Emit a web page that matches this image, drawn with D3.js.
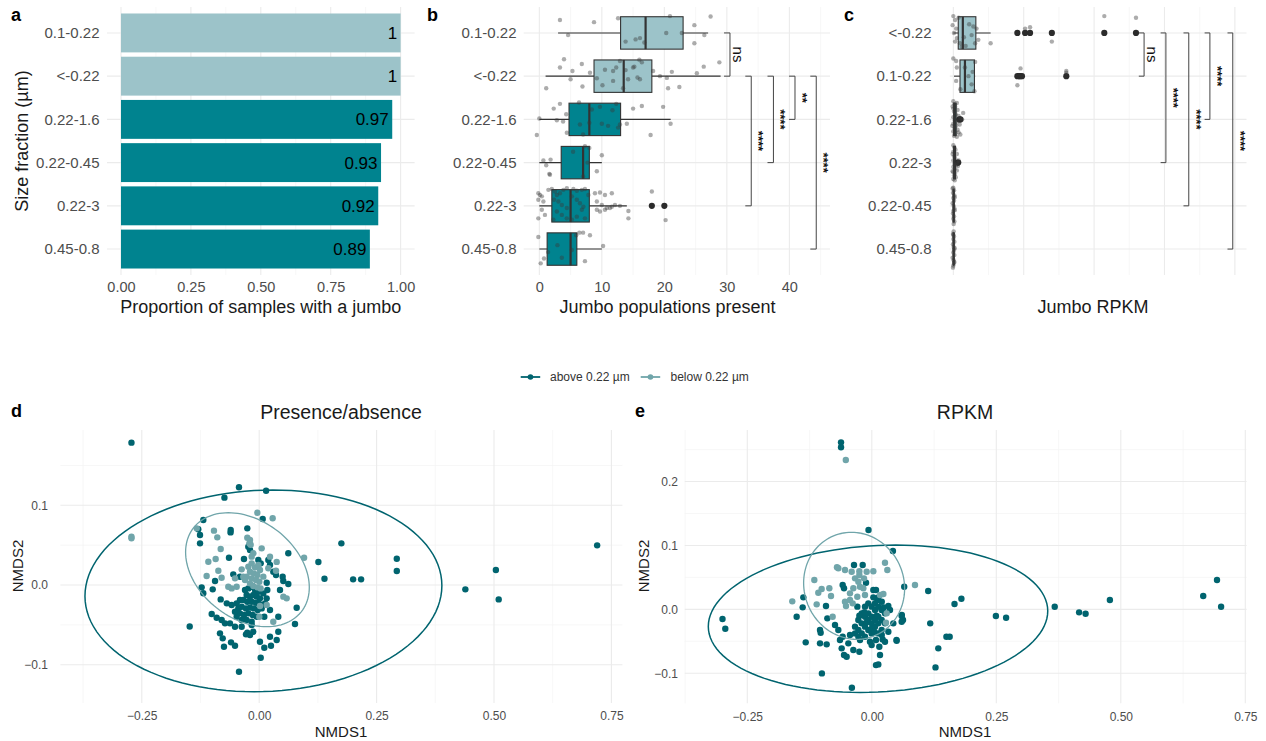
<!DOCTYPE html>
<html><head><meta charset="utf-8">
<script src="https://cdn.jsdelivr.net/npm/d3@7"></script>
<style>body{margin:0;background:#fff;} text{font-family:"Liberation Sans",Arial,Helvetica,sans-serif;-webkit-font-smoothing:antialiased;}</style>
</head><body><svg id="chart" width="1266" height="741"></svg>
<script>
// ---------------- DATA ----------------
const aCats = ["0.1-0.22","<-0.22","0.22-1.6","0.22-0.45","0.22-3","0.45-0.8"];
const aVals = [1,1,0.97,0.93,0.92,0.89];
const aGroup = ["below","below","above","above","above","above"];
const aTicks = [0,0.25,0.5,0.75,1];

const bCats = aCats;
const bGroup = aGroup;
const bLow = [3,1,0,0,0,0];
const bQ1  = [13,8.75,4.75,3.5,2,1.25];
const bMed = [17,13.5,8,7,5,5];
const bQ3  = [23,18,13,8,8,6];
const bHigh= [27,29,21,10,14,10];
const bOut = [[],[],[],[],[18,20],[]];
const bTicks = [0,10,20,30,40];
const bJitter = [
 [[3.3,-0.30],[8.75,-0.25],[4.6,0.05],[12.6,-0.34],[20.9,-0.39],[27.4,-0.38],[24.8,-0.18],[26.4,0.05],[24.8,0.24],[20.3,0],[22.8,0],[13.8,0.2],[15.4,0.15],[16.1,0.12],[16.8,0.22]],
 [[3.95,-0.39],[3.3,-0.2],[5.3,-0.12],[6.8,-0.28],[8.1,-0.08],[5.0,0.07],[6.9,0.24],[1.1,0.28],[9.2,0.05],[10.1,0.21],[10.5,-0.15],[11.8,-0.12],[12.3,-0.2],[11.8,0.11],[13.8,-0.14],[13.4,0.28],[14.2,0.07],[16.0,-0.38],[16.4,-0.32],[15.0,-0.2],[15.7,0.03],[16.1,0.07],[18.2,-0.12],[19.3,0],[20.4,0.04],[21.2,-0.1],[20.6,0.28],[22.4,0.25],[25.2,-0.07],[26.3,-0.22],[28.8,-0.32],[15.2,-0.22],[12.9,-0.35]],
 [[2.3,-0.25],[3.3,-0.36],[2.8,0.02],[3.8,0.05],[4.3,-0.12],[4.4,0.31],[-0.4,0.36],[6.35,-0.39],[6.5,0.12],[7.0,0.35],[8.0,0.08],[8.4,-0.23],[9.7,-0.29],[10.0,0.1],[11.0,0.15],[11.7,-0.21],[12.3,-0.36],[12.6,0.19],[12.9,0.12],[14.0,0.1],[15.0,-0.25],[16.4,-0.31],[17.8,0.36],[19.8,-0.29],[21.0,0.1],[0,-0.02]],
 [[5.4,-0.25],[7.3,-0.38],[8.0,-0.34],[10.0,-0.17],[9.2,0.2],[1.7,0.28],[0.65,-0.05],[1.8,-0.07],[7.0,0.32],[7.7,0],[1.1,0.06],[1.6,0.26]],
 [[-0.16,-0.29],[0.1,-0.25],[0.4,-0.22],[-0.16,-0.14],[0.65,-0.1],[0.4,0.09],[-0.16,0.29],[0.9,0.21],[1.45,-0.37],[2.0,-0.39],[2.5,-0.33],[2.8,-0.25],[3.3,-0.29],[3.85,-0.37],[4.4,-0.41],[5.45,-0.39],[6.0,-0.35],[6.8,-0.37],[7.3,-0.39],[2.35,-0.14],[3.05,-0.1],[3.6,-0.02],[4.4,0.05],[5.2,-0.22],[6.0,-0.14],[6.5,-0.06],[7.05,0.02],[7.85,-0.25],[2.8,0.13],[3.6,0.21],[4.4,0.29],[5.2,0.32],[6.0,0.25],[6.8,0.09],[7.3,0.29],[2.25,0.32],[8.9,-0.29],[9.7,-0.31],[10.5,-0.25],[11.6,-0.29],[9.2,-0.1],[10.0,-0.02],[10.8,0.05],[11.6,0.02],[12.1,-0.02],[12.9,0],[9.2,0.09],[9.7,0.13],[10.5,0.09],[11.3,0.05],[14.25,0.12],[14.25,0.29],[18.0,-0.33],[20.2,0.33]],
 [[-0.16,-0.28],[0.22,0.33],[0.75,0.22],[1.4,0.07],[2.9,-0.09],[5.9,-0.32],[6.4,-0.38],[7.0,-0.38],[8.1,-0.32],[10.2,-0.07],[7.3,0.28],[5.2,0.02],[3.6,0.2]]
];
const bSigFrom = ["0.1-0.22","<-0.22","<-0.22","<-0.22","<-0.22"];
const bSigTo   = ["<-0.22","0.22-3","0.22-0.45","0.22-1.6","0.45-0.8"];
const bSigX    = [30.5,33.9,37.45,40.9,44.3];
const bSigLab  = ["ns","****","****","**","****"];

const cCats = ["<-0.22","0.1-0.22","0.22-1.6","0.22-3","0.22-0.45","0.45-0.8"];
const cGroup = ["below","below","above","above","above","above"];
const cLow = [0,0.02,0,0,0,0];
const cQ1  = [0.14,0.19,0.01,0.01,0,0];
const cMed = [0.27,0.33,0.04,0.03,0.01,0.01];
const cQ3  = [0.64,0.6,0.08,0.06,0.02,0.02];
const cHigh= [1.06,0.62,0.12,0.09,0.04,0.04];
const cOut = [[1.82,2.04,2.18,2.8,4.29,5.19],[1.82,1.86,1.9,1.95,3.21],[0.17,0.2],[0.12,0.14],[],[]];
const cGridVals = [0,1,2,3,4,5,6,7,8];
const cJitter = [
 [[1.06,0.24],[2.04,-0.1],[2.18,-0.13],[2.8,0.2],[4.29,-0.39],[5.19,-0.35],[0,-0.39],[0.05,-0.3],[-0.02,-0.18],[0.08,-0.1],[0.57,-0.15],[0.66,-0.1],[0.52,0.05],[0.71,0.16],[0.62,0.24],[0.1,0.12],[0.19,0.24],[0.24,0.32],[0.02,0],[0.15,-0.35],[0.35,0.3],[0.45,-0.2],[0.05,0.2],[0.3,0.1]],
 [[1.91,-0.18],[1.82,0.21],[3.21,-0.12],[3.21,-0.08],[0,-0.41],[0.08,-0.35],[0.62,-0.33],[0.08,0.11],[0.52,0.19],[0.33,-0.2],[0.43,0],[0.2,0.3],[0.55,-0.1],[0.1,-0.2],[0.6,0.35]],
 [[0.0,-0.42],[0.03,-0.35],[0.1,-0.38],[0.05,-0.3],[0.0,-0.25],[0.12,-0.22],[0.02,-0.18],[0.07,-0.12],[0.15,-0.08],[0.0,-0.05],[0.2,-0.02],[0.04,0.02],[0.1,0.05],[0.25,0.0],[0.0,0.1],[0.08,0.14],[0.18,0.12],[0.03,0.2],[0.12,0.24],[0.0,0.28],[0.06,0.32],[0.2,0.35],[0.02,0.38],[0.1,0.4],[0.28,-0.15],[0.15,0.3],[-0.03,0.15],[-0.02,-0.3]],
 [[0.0,-0.4],[0.03,-0.35],[0.06,-0.3],[0.0,-0.25],[0.1,-0.2],[0.02,-0.15],[0.05,-0.1],[0.0,-0.05],[0.12,0.0],[0.03,0.03],[0.08,0.06],[0.0,0.1],[0.04,0.15],[0.1,0.18],[0.0,0.22],[0.05,0.26],[0.02,0.3],[0.07,0.34],[0.0,0.38],[0.04,0.41],[-0.02,-0.2],[-0.02,0.2],[0.15,-0.05],[0.13,0.08]],
 [[0.0,-0.42],[0.02,-0.36],[-0.01,-0.3],[0.03,-0.24],[0.0,-0.18],[0.02,-0.12],[-0.02,-0.06],[0.01,0],[0.03,0.06],[0.0,0.12],[-0.01,0.18],[0.02,0.24],[0.0,0.3],[0.03,0.36],[0.01,0.42],[-0.02,-0.4],[0.04,0.1],[0.04,-0.2]],
 [[0.01,-0.41],[-0.01,-0.35],[0.02,-0.29],[0.0,-0.23],[0.03,-0.17],[-0.01,-0.11],[0.01,-0.05],[0.02,0.02],[0.0,0.08],[0.03,0.14],[-0.02,0.2],[0.01,0.26],[0.02,0.32],[0.0,0.38],[-0.01,0.43],[0.04,-0.02],[0.03,0.3],[0.0,-0.33]]
];
const cSigFrom = ["<-0.22","<-0.22","<-0.22","<-0.22","<-0.22"];
const cSigTo   = ["0.1-0.22","0.22-3","0.22-0.45","0.22-1.6","0.45-0.8"];
const cSigX    = [5.42,6.04,6.69,7.29,7.94];
const cSigLab  = ["ns","****","****","****","****"];

const nmdsXTicks = [-0.25,0,0.25,0.5,0.75];
const nmdsXMinor = [-0.375,-0.125,0.125,0.375,0.625];
const dYTicks = [-0.1,0,0.1];
const dYMinor = [-0.05,0.05,0.15];
const eYTicks = [-0.1,0,0.1,0.2];
const eYMinor = [-0.05,0.05,0.15,0.25];

const dAbove = [[-0.272,0.1786],[-0.148,-0.052],[-0.043,0.1226],[0.0147,0.1183],[-0.074,0.1096],[-0.043,-0.1088],[0.175,0.0523],[0.126,0.0289],[0.139,0.0079],[0.2,0.0071],[0.217,0.0071],[0.293,0.033],[0.293,0.0176],[0.439,-0.0054],[0.504,0.0188],[0.510,-0.018],[0.7196,0.0498],
 [-0.119,0.0816],[-0.1297,0.0699],[-0.126,0.0523],[-0.126,0.0627],[-0.0607,0.069],[-0.061,0.066],[-0.0253,0.0711],[0.0075,0.0828],[-0.0232,0.048],[-0.0196,0.0439],[-0.0643,0.0343],[-0.0324,0.0326],[-0.0019,0.0314],[0.0032,0.0272],[-0.0552,0.0134],[-0.0409,0.0104],[0.0194,0.0314],[0.023,0.0251],[0.03,0.0167],[0.0358,0.0125],[0.05,0.0104],[0.0513,0.005],[0.0443,-0.0063],[0.062,0.0013],[0.062,0.0398],[-0.094,0.005],[-0.099,-0.0054],[-0.1225,-0.0029],[-0.119,-0.0104],[0.016,0.0029],[0.0173,-0.0063],[-0.082,-0.018],[-0.069,-0.023],[-0.0586,-0.0251],[-0.0409,-0.0188],[-0.0445,-0.0293],[0.023,-0.0314],[0.0407,-0.0397],[0.0798,-0.0285],[0.0762,-0.0489],[0.0109,-0.0397],[-0.1011,-0.0364],[-0.0905,-0.041],[-0.0799,-0.0439],[-0.0728,-0.0481],[-0.0622,-0.0481],[-0.0515,-0.0523],[-0.0373,-0.0523],[-0.016,-0.0502],[-0.0126,-0.0586],[-0.0253,-0.0598],[-0.0281,-0.0619],[-0.0196,-0.0627],[0.0017,-0.0711],[0.023,-0.0648],[0.0407,-0.0586],[0.0373,-0.069],[0.0251,-0.0761],[0.0109,-0.0787],[-0.0835,-0.0606],[-0.0777,-0.0669],[-0.075,-0.0774],[-0.06,-0.0719],[-0.0515,-0.0761],[0.0032,-0.0912],
 [-0.0302,-0.0063],[-0.0231,-0.0042],[-0.016,-0.0021],[-0.0089,-0.0063],[-0.0018,-0.0084],[-0.0267,-0.0125],[-0.0196,-0.0146],[-0.0125,-0.0125],[-0.0054,-0.0146],[0.0017,-0.0167],[-0.0338,-0.0188],[-0.0253,-0.0209],[-0.016,-0.0209],[-0.0068,-0.0222],[0.0003,-0.0238],[-0.0373,-0.0272],[-0.0281,-0.0293],[-0.0196,-0.0284],[-0.0111,-0.0293],[-0.0033,-0.0314],[0.0053,-0.0293],[-0.0409,-0.0355],[-0.0324,-0.0376],[-0.0231,-0.0355],[-0.0139,-0.0376],[-0.0054,-0.0397],[-0.0267,-0.0439],[-0.016,-0.046],[-0.0373,-0.0439],[-0.048,-0.0397],[0.0124,-0.023],[0.0159,-0.0167],[0.0088,-0.0105],[-0.048,-0.023],[-0.0515,-0.0335]];
const dBelow = [[-0.272,0.0606],[-0.272,0.0586],[0.0956,0.0343],[-0.004,0.0907],[0.0287,0.0837],[-0.133,0.0711],[-0.0963,0.0682],[-0.0892,0.0598],[-0.082,0.0452],[-0.0253,0.0594],[-0.0196,0.0565],[0.0053,0.046],[-0.0125,0.0398],[-0.016,0.0356],[-0.1083,0.0293],[-0.0927,0.0326],[-0.087,0.018],[-0.1119,0.0113],[-0.08,0.0092],[-0.0515,0.0084],[-0.0373,0.0197],[-0.0338,0.0104],[-0.048,-0.0021],[-0.0658,-0.0021],[0.0194,0.021],[0.0358,0.018],[0.016,-0.0251],[0.0017,-0.0263],[0.0003,-0.0397],[0.03,-0.046],[0.0585,-0.0167],[0.0514,-0.0146],[-0.0586,-0.0042],
 [-0.0231,0.023],[-0.016,0.0272],[-0.0089,0.0222],[-0.0018,0.0251],[-0.0196,0.0167],[-0.0111,0.0146],[-0.004,0.0125],[-0.0267,0.0105],[-0.016,0.0084],[-0.0068,0.0063],[0.0003,0.0042],[-0.0196,0.0021],[-0.0125,-0.0013],[-0.004,-0.0029],[0.0031,-0.0042],[-0.0302,0.0063],[0.0017,0.0188],[0.0088,0.0105],[-0.0182,0.0506],[-0.021,0.0523],[0.023,0.0356],[0.0373,0.029]];
const dEllipses = [
 {group:"above", cx:0.009, cy:-0.0073, w:0.380, h:0.1265, phi:87},
 {group:"below", cx:-0.025, cy:0.0192, w:0.1317, h:0.0715, phi:108}
];

const eAbove = [[-0.0618,0.2613],[-0.0618,0.2535],[-0.2998,-0.0152],[-0.2942,-0.0303],[-0.1327,-0.0516],[-0.1002,-0.1002],[-0.04,-0.1226],[-0.0066,0.1241],[0.0424,0.0912],[0.1132,0.0286],[0.1173,-0.0219],[0.1335,-0.061],[0.1279,-0.0908],[0.1498,-0.0428],[0.1564,-0.0428],[0.1661,0.0083],[0.1799,0.0166],[0.2492,-0.0105],[0.2697,-0.0131],[0.3673,0.0041],[0.4163,-0.0047],[0.4293,-0.0069],[0.4781,0.0146],[0.6655,0.0208],[0.6932,0.0459],[0.7014,0.0041],[0.0627,-0.0167],[0.0603,-0.0089],[0.0496,-0.048],[0.0651,0.0354],
 [-0.0357,0.0693],[-0.0183,0.0693],[-0.0585,0.038],[-0.0558,0.0329],[-0.0116,0.0417],[0.0031,0.0302],[0.0084,0.0302],[-0.1375,0.0188],[-0.1388,0.0031],[-0.1509,-0.0116],[-0.092,0.0052],[-0.0893,-0.0141],[-0.104,-0.0324],[-0.1027,-0.0366],[-0.104,-0.0532],[-0.0906,-0.0548],[-0.0739,-0.0246],[-0.0672,-0.0324],[-0.0639,-0.048],[-0.0605,-0.061],[-0.0558,-0.0715],[-0.0505,-0.0742],[-0.0471,-0.0532],[-0.0371,-0.0637],[-0.025,-0.0663],[-0.0237,-0.048],[-0.0036,-0.0507],[-0.0003,-0.0559],[0.0084,-0.048],[0.0151,-0.0585],[0.0165,-0.0715],[0.0084,-0.0872],[0.0131,-0.0861],[0.0218,-0.047],[0.0265,-0.0507],[0.0499,-0.0491],[0.0332,-0.035],[0.0432,-0.0219],[0.06,-0.0105],[0.06,-0.0194],[0.0332,0.0052],[0.0365,-0.0011],[-0.0203,-0.0376],[-0.0438,-0.0402],[-0.0585,-0.0428],[0.0198,0.0],[0.0111,0.0146],[-0.029,0.0042],
 [-0.0337,-0.0271],[-0.027,-0.0167],[-0.027,-0.0324],[-0.0203,-0.0063],[-0.0203,-0.0219],[-0.0137,0.0042],[-0.0137,-0.0115],[-0.0137,-0.0271],[-0.0137,-0.0428],[-0.007,0.0094],[-0.007,-0.0063],[-0.007,-0.0167],[-0.007,-0.0324],[-0.0003,0.0042],[-0.0003,-0.0115],[-0.0003,-0.0219],[-0.0003,-0.0376],[0.0064,0.0094],[0.0064,-0.0011],[0.0064,-0.0167],[0.0064,-0.0271],[0.0131,0.0042],[0.0131,-0.0115],[0.0131,-0.0219],[0.0131,-0.0376],[0.0198,-0.0011],[0.0198,-0.0167],[0.0198,-0.0324],[0.0265,-0.0063],[0.0265,-0.0219],[-0.0337,-0.0376],[-0.027,-0.0428],[0.0,-0.03],[0.01,-0.01],[-0.01,-0.02],[0.005,-0.035],[-0.015,-0.005],[0.02,-0.04],[-0.025,-0.01],[0.0031,0.0188],[0.0131,0.0188],[0.02,0.012],[0.024,0.003]];
const eBelow = [[-0.0522,0.2336],[-0.1597,0.0125],[-0.0672,0.0642],[-0.0699,0.0659],[-0.0538,0.0615],[-0.0404,0.0588],[-0.025,0.0597],[-0.0103,0.0588],[0.0031,0.0597],[0.0265,0.0729],[0.0312,0.0615],[-0.1154,0.0459],[-0.1007,0.0318],[-0.0853,0.0329],[-0.1074,0.026],[-0.0819,0.0208],[-0.1107,0.0078],[-0.0786,-0.0116],[-0.0337,0.0485],[-0.027,0.0432],[-0.0237,0.0354],[-0.017,0.0329],[-0.0371,0.0329],[-0.0438,0.025],[-0.0291,0.0197],[-0.0137,0.0224],[-0.0438,0.0146],[-0.0538,0.0119],[-0.0518,0.0052],[-0.0384,0.0094],[0.0165,0.0224],[0.0232,0.024],[0.0867,0.038],[0.0299,-0.0063],[0.0285,-0.021],[-0.025,0.0537],[-0.0157,0.0485]];
const eEllipses = [
 {group:"above", cx:0.0125, cy:-0.0147, w:0.3408, h:0.1153, phi:84},
 {group:"below", cx:-0.0355, cy:0.0368, w:0.1014, h:0.0837, phi:93}
];
const legendLabels = ["above 0.22 µm","below 0.22 µm"];

// ---------------- STYLE ----------------
const BAR = {above:"#00838f", below:"#9cc3c9"};
const PT  = {above:"#00646f", below:"#70a5aa"};
const GMAJ = "#ebebeb", GMIN = "#f3f3f3";
const TICKC = "#4d4d4d";
const svg = d3.select("#chart");

function hline(g, y, x0, x1, c, w){ g.append("line").attr("x1",x0).attr("x2",x1).attr("y1",y).attr("y2",y).attr("stroke",c).attr("stroke-width",w); }
function vline(g, x, y0, y1, c, w){ g.append("line").attr("x1",x).attr("x2",x).attr("y1",y0).attr("y2",y1).attr("stroke",c).attr("stroke-width",w); }
function styleAxis(g, size){
  g.select(".domain").remove();
  g.selectAll("text").attr("fill",TICKC).style("font-size",size+"px");
}
function label(txt,x,y,size,opts={}){
  const t = svg.append("text").attr("x",x).attr("y",y).style("font-size",size+"px").attr("fill",opts.fill||"#1a1a1a").text(txt);
  if(opts.anchor) t.attr("text-anchor",opts.anchor);
  if(opts.bold) t.style("font-weight","bold");
  if(opts.rot) t.attr("transform",`rotate(${opts.rot},${x},${y})`);
  return t;
}

// ---------------- PANEL A ----------------
(function(){
  const y = d3.scalePoint().domain(aCats).range([7,275]).padding(0.6);
  const x = d3.scaleLinear().domain([-0.05,1.05]).range([107,414.6]);
  const g = svg.append("g");
  d3.range(0,1.01,0.125).forEach((v,i)=> vline(g,x(v),7,275, i%2? GMIN:GMAJ, i%2?0.7:1.1));
  aCats.forEach(c=> hline(g,y(c),107,414.6,GMAJ,1.1));
  const bh = y.step()*0.9;
  g.selectAll("rect.bar").data(aCats).join("rect").attr("class","bar")
    .attr("x",x(0)).attr("y",c=>y(c)-bh/2).attr("height",bh)
    .attr("width",(c,i)=>x(aVals[i])-x(0)).attr("fill",(c,i)=>BAR[aGroup[i]]);
  g.selectAll("text.val").data(aCats).join("text").attr("class","val")
    .attr("x",(c,i)=>x(aVals[i])-3.5).attr("y",c=>y(c)+6).attr("text-anchor","end")
    .style("font-size","17px").attr("fill","#000").text((c,i)=>String(aVals[i]));
  const ax = svg.append("g").attr("transform","translate(0,280)")
    .call(d3.axisBottom(x).tickValues(aTicks).tickFormat(d3.format(".2f")).tickSize(0).tickPadding(2));
  styleAxis(ax,14.5);
  const ay = svg.append("g").attr("transform","translate(99.5,0)").call(d3.axisLeft(y).tickSize(0).tickPadding(0));
  styleAxis(ay,15);
  label("Proportion of samples with a jumbo", x(0.5), 313, 18, {anchor:"middle"});
  label("Size fraction (µm)", 28, 141, 18, {anchor:"middle", rot:-90});
  label("a", 11, 21, 18, {bold:true, fill:"#000"});
})();

// ---------------- BOX helper ----------------
function boxPanel(cats, groups, x, y, lo, q1, med, q3, hi, outs, jit, sigFrom, sigTo, sigX, sigLab, tickLen, gridVals){
  const g = svg.append("g");
  gridVals.forEach((v,i)=> vline(g,x(v),7,275, i%2?GMIN:GMAJ, i%2?0.7:1.1));
  cats.forEach(c=> hline(g,y(c),x.range()[0],x.range()[1],GMAJ,1.1));
  const bh = y.step()*0.75;
  cats.forEach((c,i)=>{
    const cy = y(c);
    g.append("line").attr("x1",x(lo[i])).attr("x2",x(hi[i])).attr("y1",cy).attr("y2",cy).attr("stroke","#333").attr("stroke-width",1.1);
    g.append("rect").attr("x",x(q1[i])).attr("y",cy-bh/2).attr("width",Math.max(0.3,x(q3[i])-x(q1[i]))).attr("height",bh)
      .attr("fill",BAR[groups[i]]).attr("stroke","#333").attr("stroke-width",1.1);
    g.append("line").attr("x1",x(med[i])).attr("x2",x(med[i])).attr("y1",cy-bh/2).attr("y2",cy+bh/2).attr("stroke","#333").attr("stroke-width",2.2);
    g.selectAll(null).data(outs[i]).join("circle").attr("cx",d=>x(d)).attr("cy",cy).attr("r",3.1).attr("fill","#2b2b2b");
  });
  cats.forEach((c,i)=>{
    g.selectAll(null).data(jit[i]).join("circle")
      .attr("cx",d=>x(d[0])).attr("cy",d=>y(c)+d[1]*y.step()).attr("r",2.2)
      .attr("fill","#3a3a3a").attr("fill-opacity",0.42);
  });
  sigFrom.forEach((f,i)=>{
    const y0=y(f), y1=y(sigTo[i]), xx=x(sigX[i]), xt=x(sigX[i]-tickLen);
    g.append("path").attr("d",`M${xt},${y0}H${xx}V${y1}H${xt}`).attr("fill","none").attr("stroke","#444").attr("stroke-width",1);
    const lx = xx+3, ly=(y0+y1)/2;
    g.append("text").attr("x",lx).attr("y",ly).attr("text-anchor","middle")
      .attr("transform",`rotate(90,${lx},${ly})`).attr("fill","#111")
      .style("font-size", sigLab[i]==="ns"?"15px":"13px").style("font-weight", sigLab[i]==="ns"?"normal":"bold").text(sigLab[i]);
  });
  return g;
}

// ---------------- PANEL B ----------------
(function(){
  const y = d3.scalePoint().domain(bCats).range([7,275]).padding(0.6);
  const x = d3.scaleLinear().domain([-2.5,46.5]).range([523.7,830]);
  boxPanel(bCats,bGroup,x,y,bLow,bQ1,bMed,bQ3,bHigh,bOut,bJitter,bSigFrom,bSigTo,bSigX,bSigLab,0.95,d3.range(0,46,5));
  const ax = svg.append("g").attr("transform","translate(0,280)")
    .call(d3.axisBottom(x).tickValues(bTicks).tickSize(0).tickPadding(2));
  styleAxis(ax,14.5);
  const ay = svg.append("g").attr("transform","translate(516.5,0)").call(d3.axisLeft(y).tickSize(0).tickPadding(0));
  styleAxis(ay,15);
  label("Jumbo populations present", x(20.5), 313, 18, {anchor:"middle"});
  label("b", 427, 21, 18, {bold:true, fill:"#000"});
})();

// ---------------- PANEL C ----------------
(function(){
  const y = d3.scalePoint().domain(cCats).range([7,275]).padding(0.6);
  const x = d3.scaleLinear().domain([-0.1,8.33]).range([949.8,1246.5]);
  boxPanel(cCats,cGroup,x,y,cLow,cQ1,cMed,cQ3,cHigh,cOut,cJitter,cSigFrom,cSigTo,cSigX,cSigLab,0.15,cGridVals);
  const ay = svg.append("g").attr("transform","translate(931.5,0)").call(d3.axisLeft(y).tickSize(0).tickPadding(0));
  styleAxis(ay,15);
  label("Jumbo RPKM", 1093, 313, 18, {anchor:"middle"});
  label("c", 844, 21, 18, {bold:true, fill:"#000"});
})();

// ---------------- LEGEND ----------------
(function(){
  const keys = [{g:"above",x:520.7,tx:550},{g:"below",x:640.7,tx:670.5}];
  keys.forEach((k,i)=>{
    svg.append("line").attr("x1",k.x).attr("x2",k.x+19.5).attr("y1",377).attr("y2",377).attr("stroke",PT[k.g]).attr("stroke-width",1.8);
    svg.append("circle").attr("cx",k.x+9.75).attr("cy",377).attr("r",2.8).attr("fill",PT[k.g]);
    label(legendLabels[i], k.tx, 381.3, 12, {fill:"#333"});
  });
})();

// ---------------- NMDS helper ----------------
function nmds(x, y, yTicks, yMinor, above, below, ellipses, yAxisX){
  const g = svg.append("g");
  const [x0,x1]=x.range(), [yb,yt]=y.range();
  nmdsXMinor.forEach(v=> vline(g,x(v),yt,yb,GMIN,0.7));
  yMinor.forEach(v=> hline(g,y(v),x0,x1,GMIN,0.7));
  nmdsXTicks.forEach(v=> vline(g,x(v),yt,yb,GMAJ,1.1));
  yTicks.forEach(v=> hline(g,y(v),x0,x1,GMAJ,1.1));
  g.selectAll(null).data(above).join("circle").attr("cx",d=>x(d[0])).attr("cy",d=>y(d[1])).attr("r",3.2).attr("fill",PT.above);
  g.selectAll(null).data(below).join("circle").attr("cx",d=>x(d[0])).attr("cy",d=>y(d[1])).attr("r",3.2).attr("fill",PT.below);
  const ts = d3.range(0,361,3).map(a=>a*Math.PI/180);
  ellipses.forEach(e=>{
    const ph = e.phi*Math.PI/180;
    const line = d3.line().x(t=>x(e.cx+e.w*Math.cos(t))).y(t=>y(e.cy+e.h*Math.cos(t+ph))).curve(d3.curveLinearClosed);
    g.append("path").attr("d",line(ts)).attr("fill","none").attr("stroke",PT[e.group]).attr("stroke-width",e.group==="above"?1.5:1.3);
  });
  const ax = svg.append("g").attr("transform",`translate(0,${yb+5.7})`)
    .call(d3.axisBottom(x).tickValues(nmdsXTicks).tickFormat(d3.format(".2f")).tickSize(0).tickPadding(3));
  styleAxis(ax,12);
  const ay = svg.append("g").attr("transform",`translate(${yAxisX},0)`)
    .call(d3.axisLeft(y).tickValues(yTicks).tickFormat(d3.format(".1f")).tickSize(0).tickPadding(0));
  styleAxis(ay,12);
}

// ---------------- PANEL D ----------------
(function(){
  const x = d3.scaleLinear().domain([-0.4233,0.7734]).range([60.4,622.4]);
  const y = d3.scaleLinear().domain([-0.148,0.1945]).range([703,430]);
  nmds(x,y,dYTicks,dYMinor,dAbove,dBelow,dEllipses,48);
  label("Presence/absence", 341, 419, 19.5, {anchor:"middle"});
  label("NMDS1", 341, 737, 15, {anchor:"middle"});
  label("NMDS2", 23, 566, 15, {anchor:"middle", rot:-90});
  label("d", 11, 417, 18, {bold:true, fill:"#000"});
})();

// ---------------- PANEL E ----------------
(function(){
  const x = d3.scaleLinear().domain([-0.3755,0.7526]).range([684.8,1246.6]);
  const y = d3.scaleLinear().domain([-0.147,0.2806]).range([703.3,430]);
  nmds(x,y,eYTicks,eYMinor,eAbove,eBelow,eEllipses,678);
  label("RPKM", 965, 419, 19.5, {anchor:"middle"});
  label("NMDS1", 965, 737, 15, {anchor:"middle"});
  label("NMDS2", 649, 566, 15, {anchor:"middle", rot:-90});
  label("e", 635, 417, 18, {bold:true, fill:"#000"});
})();
</script></body></html>
